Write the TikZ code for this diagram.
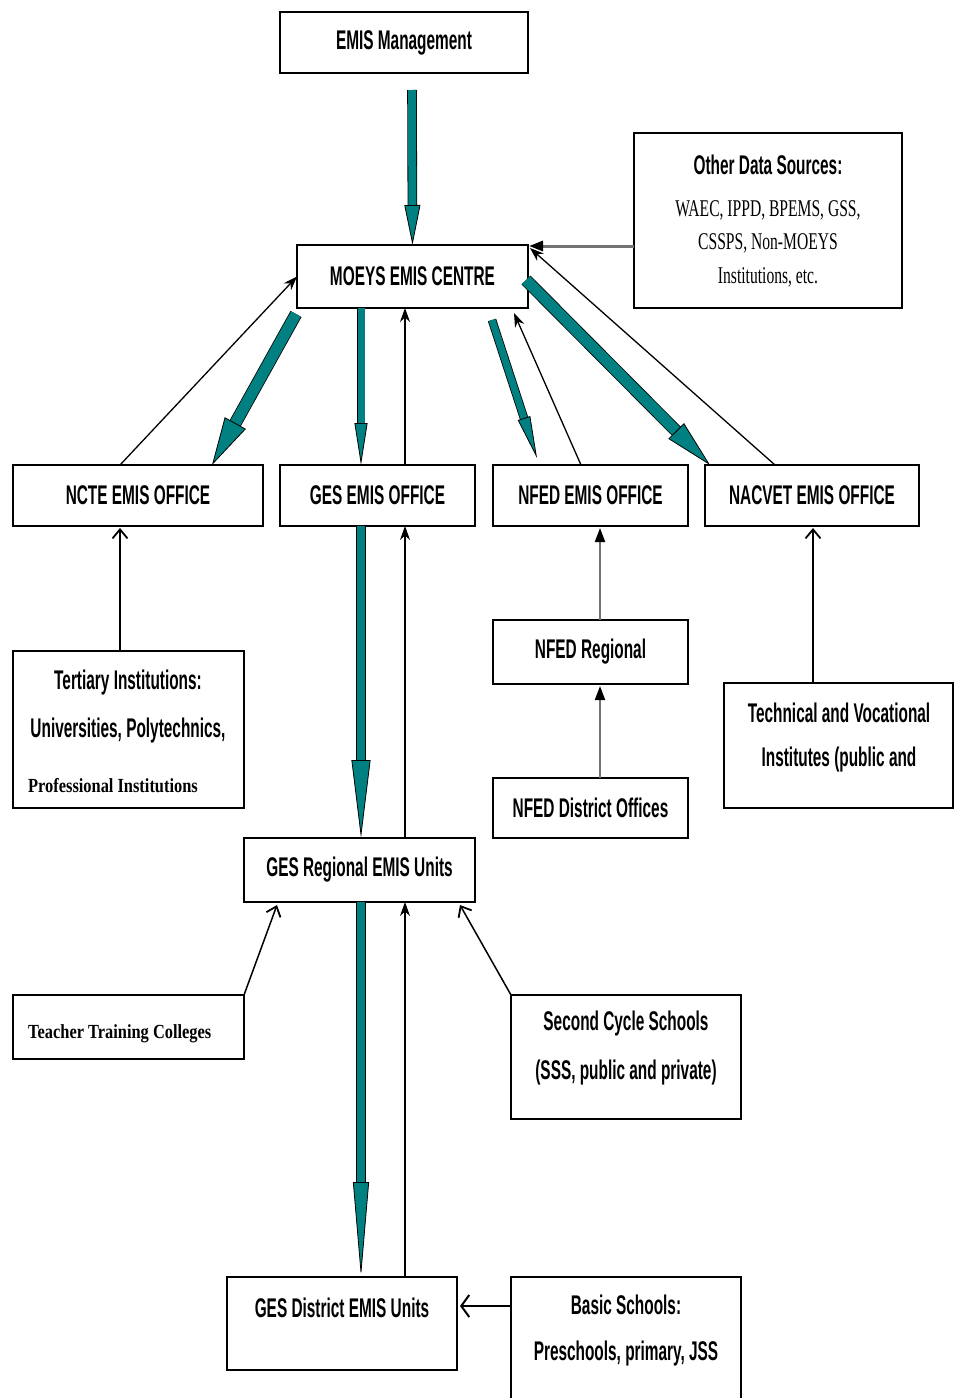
\documentclass[tikz,border=0pt]{standalone}
\usepackage{fontspec}
\setmainfont{Liberation Sans}
\newfontfamily\nsans[FakeStretch=0.57, UprightFont={* Bold}]{Liberation Sans}
\newfontfamily\nserif[FakeStretch=0.65]{Liberation Serif}
\newfontfamily\wserif[FakeStretch=0.82, UprightFont={* Bold}]{Liberation Serif}
\usetikzlibrary{arrows.meta}
\definecolor{tealc}{RGB}{0,128,128}
\newcommand\tealarr[5]{%
  \pgfmathsetmacro\tao{#3+1.6}%
  \pgfmathsetmacro\tas{#5-1}%
  \draw[black, line width=\tao pt, shorten >=\tas pt] #1 -- #2;
  \draw[tealc, line width=#3pt, -{Triangle[width=#4pt, length=#5pt, fill=tealc, color=black, line width=0.8pt]}] #1 -- #2;
}
\begin{document}
\begin{tikzpicture}[x=1pt,y=-1pt,
  box/.style 2 args={draw=black, line width=1.6pt, inner sep=0pt, outer sep=0pt,
    minimum width=#1pt, minimum height=#2pt,
    font=\nsans\fontsize{27}{32}\selectfont},
  txt/.style={inner sep=0pt, font=\nsans\fontsize{27}{32}\selectfont},
  stxt/.style={inner sep=0pt, font=\nserif\fontsize{24}{28}\selectfont},
  wtxt/.style={inner sep=0pt, font=\wserif\fontsize{20}{24}\selectfont},
  thinarr/.style={draw=black, line width=1.3pt, -{Stealth[length=14pt, width=10pt]}},
  barb/.style={draw=black, line width=1.5pt, -{Straight Barb[length=9pt, width=15pt, line width=1.8pt]}},
  grayarr/.style={draw=black!55, line width=2pt, -{Triangle[length=14pt, width=10pt, color=black, fill=black]}}
]
\fill[white] (0,0) rectangle (955,1398);
\useasboundingbox (0,0) rectangle (955,1398);

% boxes
\node[box={248}{61}] (mgmt) at (404,42.5) {EMIS Management};
\node[box={231}{63}] (moeys) at (412.5,276.5) {MOEYS EMIS CENTRE};
\node[box={268}{175}] (other) at (768,220.5) {};
\node[box={250}{61}] (ncte) at (138,495.5) {NCTE EMIS OFFICE};
\node[box={195}{61}] (ges) at (377.5,495.5) {GES EMIS OFFICE};
\node[box={195}{61}] (nfed) at (590.5,495.5) {NFED EMIS OFFICE};
\node[box={214}{61}] (nacvet) at (812,495.5) {NACVET EMIS OFFICE};
\node[box={231}{157}] (tert) at (128.5,729.5) {};
\node[box={195}{64}] (nfedreg) at (590.5,652) {NFED Regional};
\node[box={195}{60}] (nfeddist) at (590.5,808) {NFED District Offices};
\node[box={229}{125}] (tech) at (838.5,745.5) {};
\node[box={231}{64}] (gesreg) at (359.5,870) {GES Regional EMIS Units};
\node[box={231}{64}] (ttc) at (128.5,1027) {};
\node[box={230}{124}] (second) at (626,1057) {};
\node[box={230}{93}] (gesdist) at (342,1323.5) {};
\node[box={230}{133}] (basic) at (626,1343.5) {};

% texts
\node[txt] (otherA) at (768,165) {Other Data Sources:};
\node[stxt] (otherB) at (768,210) {WAEC, IPPD, BPEMS, GSS,};
\node[stxt] (otherC) at (768,243) {CSSPS, Non-MOEYS};
\node[stxt] (otherD) at (768,277) {Institutions, etc.};
\node[txt] (tertA) at (128,683) {Tertiary Institutions:};
\node[txt] (tertB) at (128,731) {Universities, Polytechnics,};
\node[wtxt] (tertC) at (113,786) {Professional Institutions};
\node[txt] (techA) at (839,713) {Technical and Vocational};
\node[txt] (techB) at (839,760) {Institutes (public and};
\node[wtxt, anchor=west] (ttcA) at (28,1034) {Teacher Training Colleges};
\node[txt] (secA) at (626,1024) {Second Cycle Schools};
\node[txt] (secB) at (626,1073) {(SSS, public and private)};
\node[txt] (distA) at (342,1308) {GES District EMIS Units};
\node[txt] (basA) at (626,1305) {Basic Schools:};
\node[txt] (basB) at (626,1354) {Preschools, primary, JSS};

% free ends
\coordinate (t1s) at (412,90);
\coordinate (tncs) at (296,314);
\coordinate (tnfs) at (492,320);
\coordinate (tnfe) at (537,458);
\coordinate (tnas) at (526,280);
\coordinate (nfup) at (514,313);

% teal arrows
\tealarr{(t1s)}{(moeys.north)}{8}{16}{40}
\tealarr{(tncs)}{([xshift=74pt]ncte.north)}{11}{24}{48}
\tealarr{([xshift=-51.5pt]moeys.south)}{([xshift=-16.5pt]ges.north)}{7}{13}{42}
\tealarr{(tnfs)}{(tnfe)}{7}{13}{42}
\tealarr{(tnas)}{([xshift=-102pt]nacvet.north)}{11}{22}{48}
\tealarr{([xshift=-16.5pt]ges.south)}{([xshift=1.5pt]gesreg.north)}{8}{19}{78}
\tealarr{([xshift=1.5pt]gesreg.south)}{([xshift=19pt]gesdist.north)}{8}{16}{95}

% thin arrows to MOEYS
\draw[thinarr] ([xshift=-18pt]ncte.north) -- (moeys.west);
\draw[thinarr] ([xshift=27.5pt]ges.north) -- ([xshift=-7.5pt]moeys.south);
\draw[thinarr] ([xshift=-9.5pt]nfed.north) -- (nfup);
\draw[thinarr] ([xshift=-37pt]nacvet.north) -- ([xshift=2pt,yshift=-3pt]moeys.north east);
\draw[grayarr, line width=3pt] ([yshift=-25.5pt]other.west) -- ([xshift=1pt,yshift=30.5pt]moeys.east);

% GES chain
\draw[thinarr] ([xshift=45.5pt]gesreg.north) -- ([xshift=27.5pt]ges.south);
\draw[thinarr] ([xshift=63pt]gesdist.north) -- ([xshift=45.5pt]gesreg.south);

% feeders
\draw[barb] ([xshift=-8.5pt]tert.north) -- ([xshift=-18pt,yshift=-2pt]ncte.south);
\draw[grayarr] ([xshift=9.5pt]nfedreg.north) -- ([xshift=9.5pt,yshift=-2pt]nfed.south);
\draw[grayarr] ([xshift=9.5pt]nfeddist.north) -- ([xshift=9.5pt,yshift=-2pt]nfedreg.south);
\draw[barb] ([xshift=-25.5pt]tech.north) -- ([xshift=1pt,yshift=-2pt]nacvet.south);
\draw[barb] (ttc.north east) -- ([xshift=-82.5pt,yshift=-3pt]gesreg.south);
\draw[barb] (second.north west) -- ([xshift=100.5pt,yshift=-3pt]gesreg.south);
\draw[draw=black, line width=2.5pt, -{Straight Barb[length=8pt, width=22pt, line width=2pt]}] ([yshift=37.5pt]basic.west) -- ([xshift=3pt,yshift=17.5pt]gesdist.east);
\end{tikzpicture}
\end{document}
